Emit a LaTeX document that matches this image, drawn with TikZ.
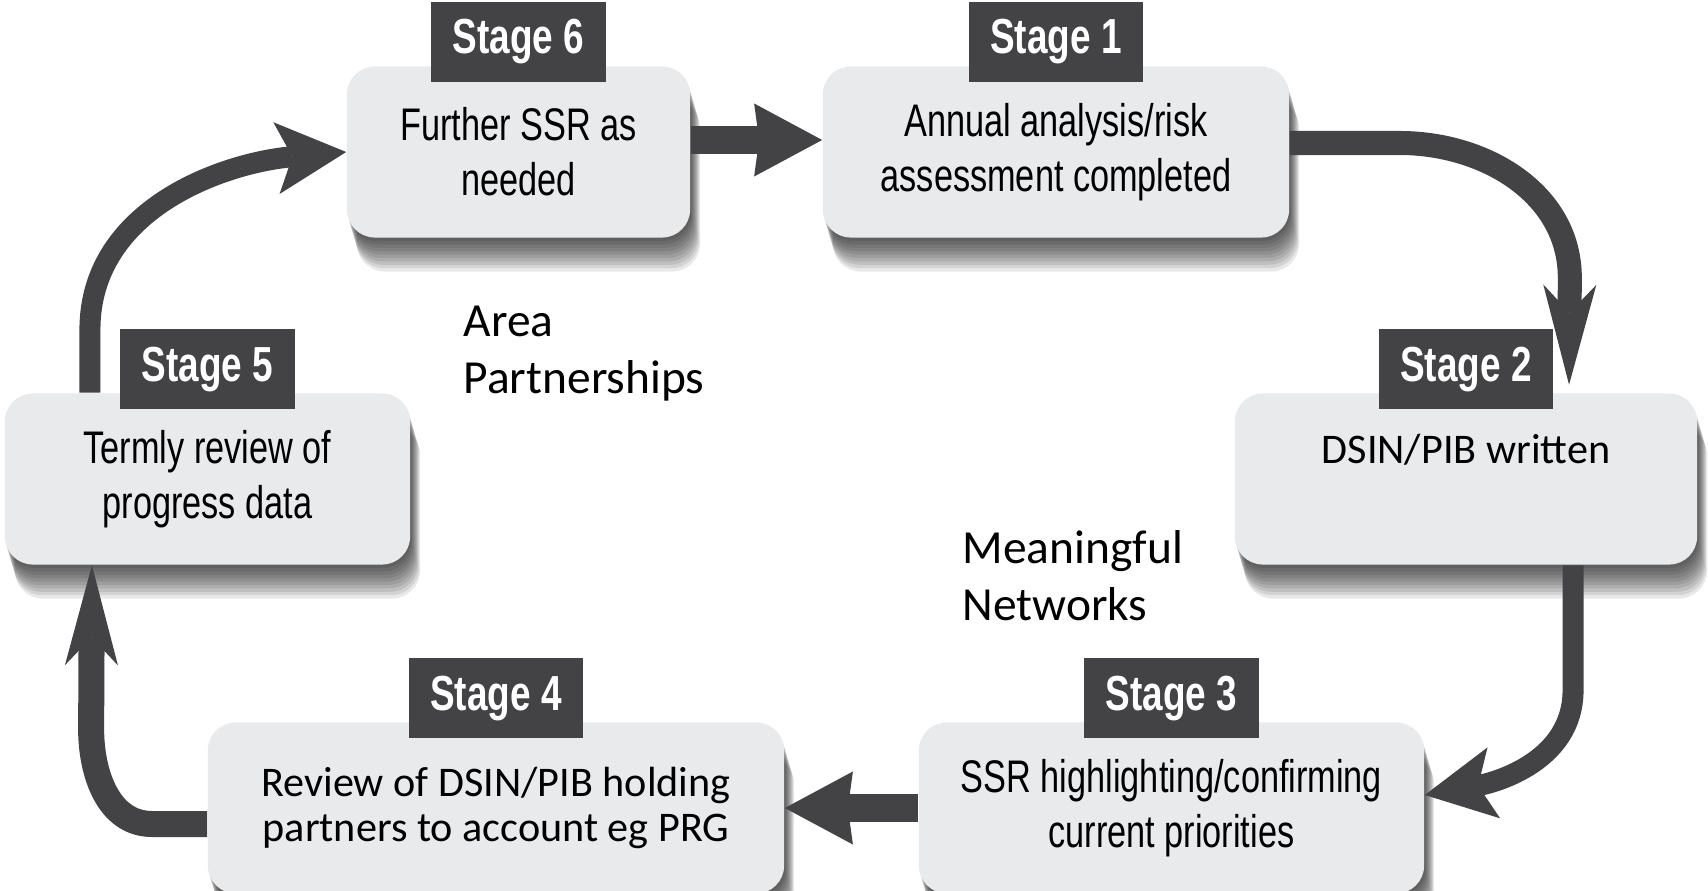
\documentclass[tikz,border=0pt]{standalone}
\usepackage{fontspec}
\setmainfont{Carlito}
\newfontfamily\condfont[FakeStretch=0.75]{Liberation Sans}
\usetikzlibrary{arrows.meta,positioning,shadows}

\definecolor{boxfill}{RGB}{232,234,236}
\definecolor{darkfill}{RGB}{67,67,70}

\tikzset{
	shade layer/.style={general shadow={shadow xshift=#1*0.01cm, shadow yshift=-#1*0.034cm, fill=black, opacity=0.09}},
	stagebox/.style={rounded corners=0.28cm, fill=boxfill, minimum height=1.71cm, inner sep=0, align=center,
		shade layer=10, shade layer=9, shade layer=8, shade layer=7, shade layer=6,
		shade layer=5, shade layer=4, shade layer=3, shade layer=2, shade layer=1},
	condtext/.style={font=\condfont\fontsize{13}{15.6}\selectfont},
	caltext/.style={font=\fontsize{12}{12.8}\selectfont},
	stagetag/.style={fill=darkfill, text=white, minimum width=1.74cm, minimum height=0.8cm, inner sep=0,
		font=\condfont\bfseries\fontsize{14}{16}\selectfont},
	freetext/.style={inner sep=0, align=left, anchor=north west, font=\fontsize{13.5}{16.2}\selectfont},
	flow/.style={draw=darkfill, line width=0.27cm,
		-{Stealth[length=0.68cm, width=0.73cm, inset=0.05cm, line width=0pt]}},
	bend flow/.style={draw=darkfill, line width=0.21cm,
		-{Stealth[length=0.70cm, width=0.72cm, inset=0.16cm, line width=0pt]}},
	spike flow/.style={draw=darkfill, line width=0.22cm,
		-{Stealth[length=1.0cm, width=0.53cm, inset=0.28cm, line width=0pt]}}
}

\begin{document}
\begin{tikzpicture}[x=0.01cm, y=0.01cm]
	\useasboundingbox[fill=white] (0,0) rectangle (1708,890);

	\node[stagebox, condtext, minimum width=3.43cm] (s6) at (518.5,738) {Further SSR as\\needed};
	\node[stagebox, condtext, minimum width=4.66cm] (s1) at (1056,738) {Annual analysis/risk\\assessment completed};
	\node[stagebox, caltext, minimum width=4.62cm] (s2) at (1466,411) {DSIN/PIB written\\[0.15cm]~};
	\node[stagebox, condtext, minimum width=4.05cm] (s5) at (207.5,411) {Termly review of\\progress data};
	\node[stagebox, condtext, minimum width=5.05cm] (s3) at (1171.5,82) {SSR highlighting/confirming\\current priorities};
	\node[stagebox, caltext, minimum width=5.76cm] (s4) at (496,82) {Review of DSIN/PIB holding\\partners to account eg PRG};

	\node[stagetag, above=-0.17cm of s6.north] (t6) {Stage 6};
	\node[stagetag, above=-0.17cm of s1.north] (t1) {Stage 1};
	\node[stagetag, above=-0.17cm of s2.north] (t2) {Stage 2};
	\node[stagetag, above=-0.17cm of s5.north] (t5) {Stage 5};
	\node[stagetag, above=-0.17cm of s3.north] (t3) {Stage 3};
	\node[stagetag, above=-0.17cm of s4.north] (t4) {Stage 4};

	\node[freetext] (area) at (463,585) {Area\\Partnerships};
	\node[freetext] (net) at (962,360) {Meaningful\\Networks};

	\draw[flow] ([yshift=0.12cm]s6.east) -- ([yshift=0.12cm]s1.west);
	\draw[spike flow, line width=0.24cm] ([yshift=0.09cm]s1.east) -- ++(110,0) to[out=0,in=90] ++(170,-135)
		-- ([xshift=1.03cm,yshift=0.08cm]s2.north);
	\draw[bend flow] ([xshift=1.07cm]s2.south) -- ++(0,-125) to[out=-90,in=10] ([yshift=0.13cm]s3.east);
	\draw[flow] (s3.west) -- (s4.east);
	\draw[spike flow, line width=0.26cm] ([yshift=-0.16cm]s4.west) -- ++(-55,0) to[out=180,in=-90] ++(-61,95)
		-- ([xshift=-1.155cm]s5.south);
	\draw[bend flow] ([xshift=-1.175cm]s5.north) -- ++(0,63) to[out=90,in=185] (s6.west);
\end{tikzpicture}
\end{document}
